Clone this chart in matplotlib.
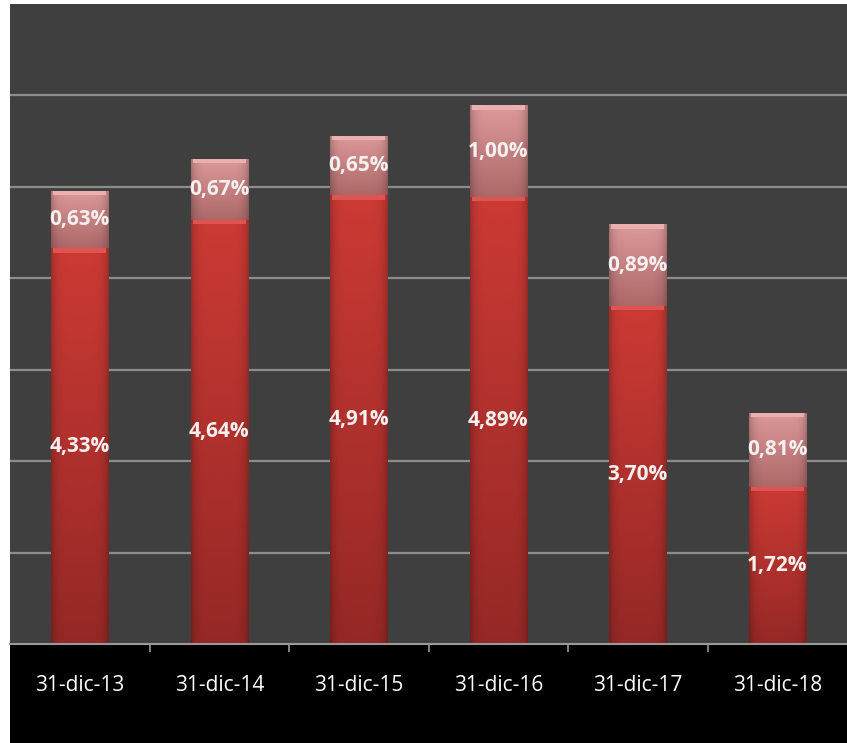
import numpy as np
import matplotlib
matplotlib.use('Agg')
import matplotlib.pyplot as plt
from matplotlib.patches import Rectangle
from matplotlib.colors import to_rgb

fechas = ['31-dic-13', '31-dic-14', '31-dic-15', '31-dic-16', '31-dic-17', '31-dic-18']
base_vals = [4.33, 4.64, 4.91, 4.89, 3.70, 1.72]
top_vals = [0.63, 0.67, 0.65, 1.00, 0.89, 0.81]

plt.rcParams['font.family'] = ['Open Sans', 'DejaVu Sans']

W, H = 847, 743
fig = plt.figure(figsize=(W / 100, H / 100), dpi=100, facecolor='white')

# banda negra inferior con las fechas
fig.patches.append(Rectangle((10 / W, 0), 1 - 10 / W, 100 / H, transform=fig.transFigure,
                             facecolor='black', edgecolor='none', zorder=-5))

ax = fig.add_axes([10 / W, 99 / H, 837 / W, 640 / H])
ax.set_facecolor('#3f3f3f')
ax.set_xlim(-0.5, len(fechas) - 0.5)
ax.set_ylim(0, 7)
ax.set_yticks(range(1, 7))
ax.yaxis.grid(True, color='#8c8c8c', linewidth=1.6)
ax.set_axisbelow(True)
ax.tick_params(axis='y', left=False, labelleft=False)
for s in ['top', 'right', 'left']:
    ax.spines[s].set_visible(False)
ax.spines['bottom'].set_color('#9a9a9a')
ax.spines['bottom'].set_linewidth(1.5)

x = np.arange(len(fechas))
BW = 0.41

c1 = ax.bar(x, base_vals, BW, color='#c0332f', edgecolor='none', zorder=2)
c2 = ax.bar(x, top_vals, BW, bottom=base_vals, color='#cf7f7f', edgecolor='none', zorder=2)


def shade(patch, top, bot, cap):
    # gradiente vertical + bordes laterales mas oscuros, recortado a la barra
    x0, y0 = patch.get_x(), patch.get_y()
    w, h = patch.get_width(), patch.get_height()
    ny, nx = 120, 60
    t = np.linspace(0, 1, ny)[:, None, None]
    col = np.array(to_rgb(bot)) * (1 - t) + np.array(to_rgb(top)) * t
    u = np.linspace(-1, 1, nx)[None, :, None]
    col = col * (1 - 0.22 * np.abs(u) ** 6) * np.ones((ny, nx, 3))
    im = ax.imshow(np.clip(col, 0, 1), extent=(x0, x0 + w, y0, y0 + h), origin='lower',
                   aspect='auto', interpolation='bilinear', zorder=2.5)
    im.set_clip_path(patch)
    capr = Rectangle((x0 + w * 0.04, y0 + h - 0.05), w * 0.92, 0.05,
                     facecolor=cap, edgecolor='none', zorder=2.6)
    ax.add_patch(capr)


for p in c1.patches:
    shade(p, '#cc3a34', '#952826', '#df5450')
for p in c2.patches:
    shade(p, '#de9a9a', '#ad6868', '#eab0b0')

fmt = lambda v: f'{v:.2f}%'.replace('.', ',')
ax.bar_label(c1, labels=[fmt(v) for v in base_vals], label_type='center',
             color='#f4f0f0', fontsize=15, fontweight='bold', zorder=5)
ax.bar_label(c2, labels=[fmt(v) for v in top_vals], label_type='center',
             color='#f4f0f0', fontsize=15, fontweight='bold', zorder=5)

ax.set_xticks(np.arange(len(fechas) - 1) + 0.5)
ax.set_xticklabels([])
ax.tick_params(axis='x', which='major', direction='out', length=6, width=1.2, color='#9a9a9a')
ax.set_xticks(x, minor=True)
ax.set_xticklabels(fechas, minor=True, color='white', fontsize=15)
ax.tick_params(axis='x', which='minor', length=0, pad=22)

fig.savefig('out.png', dpi=100, facecolor=fig.get_facecolor())
